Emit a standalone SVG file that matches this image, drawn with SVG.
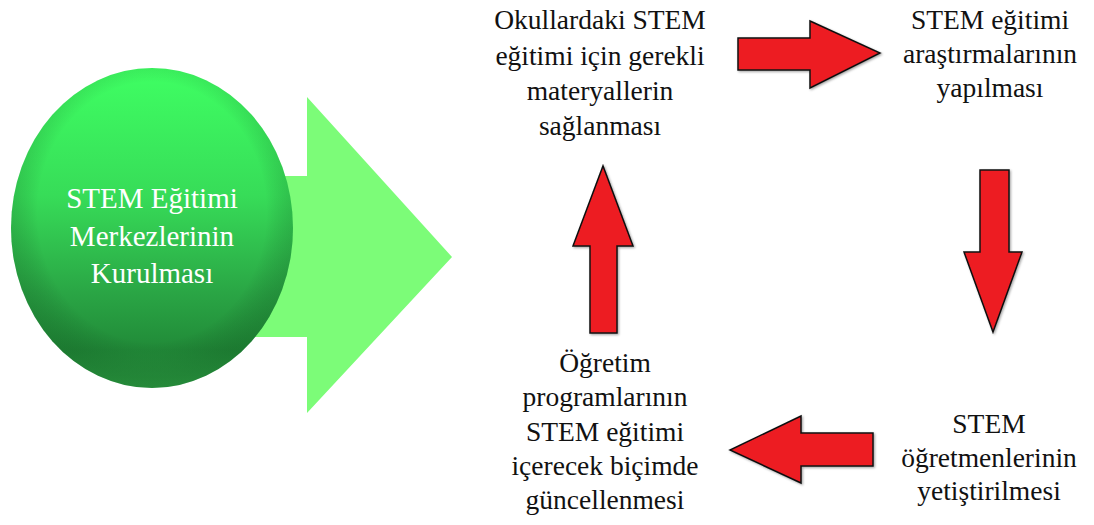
<svg xmlns="http://www.w3.org/2000/svg" width="1094" height="525" viewBox="0 0 1094 525">
  <defs>
    <style>
      text { font-family: 'Liberation Serif', 'DejaVu Serif', serif; }
      .lbl { font-size: 27.5px; fill: #111; text-anchor: middle; }
      .hub { font-size: 29px; fill: #ffffff; text-anchor: middle; }
      .red { fill: #ED1C24; stroke: #111; stroke-width: 1.5; stroke-linejoin: miter; filter: url(#shadow); }
    </style>
    <linearGradient id="sphere" x1="0" y1="0" x2="0" y2="1">
      <stop offset="0" stop-color="#3FFF63"/>
      <stop offset="0.4" stop-color="#37DC58"/>
      <stop offset="0.7" stop-color="#2AA645"/>
      <stop offset="0.88" stop-color="#218A38"/>
      <stop offset="1" stop-color="#2C9E43"/>
    </linearGradient>
    <radialGradient id="rim" cx="0.5" cy="0.45" r="0.52">
      <stop offset="0.78" stop-color="#000" stop-opacity="0"/>
      <stop offset="1" stop-color="#0a3a14" stop-opacity="0.2"/>
    </radialGradient>
    <filter id="shadow" x="-10%" y="-10%" width="130%" height="130%">
      <feDropShadow dx="1.2" dy="1.2" stdDeviation="0.8" flood-color="#000" flood-opacity="0.35"/>
    </filter>
  </defs>

  <!-- large green block arrow behind the hub -->
  <g id="hub-arrow">
    <polygon points="250,176 307,176 307,97 452,257 307,413 307,337 250,337" fill="#7CFC78"/>
  </g>

  <!-- hub sphere -->
  <g id="hub">
    <ellipse cx="152" cy="228" rx="141" ry="160" fill="url(#sphere)"/>
    <ellipse cx="152" cy="228" rx="141" ry="160" fill="url(#rim)"/>
    <text class="hub" x="152" y="208">STEM Eğitimi</text>
    <text class="hub" x="152" y="246">Merkezlerinin</text>
    <text class="hub" x="152" y="283">Kurulması</text>
  </g>

  <!-- cycle nodes -->
  <g id="materials">
    <text class="lbl" x="600" y="29">Okullardaki STEM</text>
    <text class="lbl" x="600" y="65">eğitimi için gerekli</text>
    <text class="lbl" x="600" y="100">materyallerin</text>
    <text class="lbl" x="600" y="135">sağlanması</text>
  </g>

  <g id="research">
    <text class="lbl" x="990" y="29">STEM eğitimi</text>
    <text class="lbl" x="990" y="63">araştırmalarının</text>
    <text class="lbl" x="990" y="97">yapılması</text>
  </g>

  <g id="teachers">
    <text class="lbl" x="989" y="433">STEM</text>
    <text class="lbl" x="989" y="467">öğretmenlerinin</text>
    <text class="lbl" x="989" y="500">yetiştirilmesi</text>
  </g>

  <g id="curriculum">
    <text class="lbl" x="605" y="372">Öğretim</text>
    <text class="lbl" x="605" y="406">programlarının</text>
    <text class="lbl" x="605" y="441">STEM eğitimi</text>
    <text class="lbl" x="605" y="475">içerecek biçimde</text>
    <text class="lbl" x="605" y="509">güncellenmesi</text>
  </g>

  <!-- red block arrows linking the cycle -->
  <g id="connectors">
    <polygon class="red" points="738,38 810,38 810,21 880,53 810,88 810,70 738,70"/>
    <polygon class="red" points="980,170 1009,170 1009,252 1022,252 993,332 964,252 980,252"/>
    <polygon class="red" points="873,433 801,433 801,416 730,450 801,483 801,466 873,466"/>
    <polygon class="red" points="590,333 617,333 617,246 633,246 603,166 573,246 590,246"/>
  </g>
</svg>
